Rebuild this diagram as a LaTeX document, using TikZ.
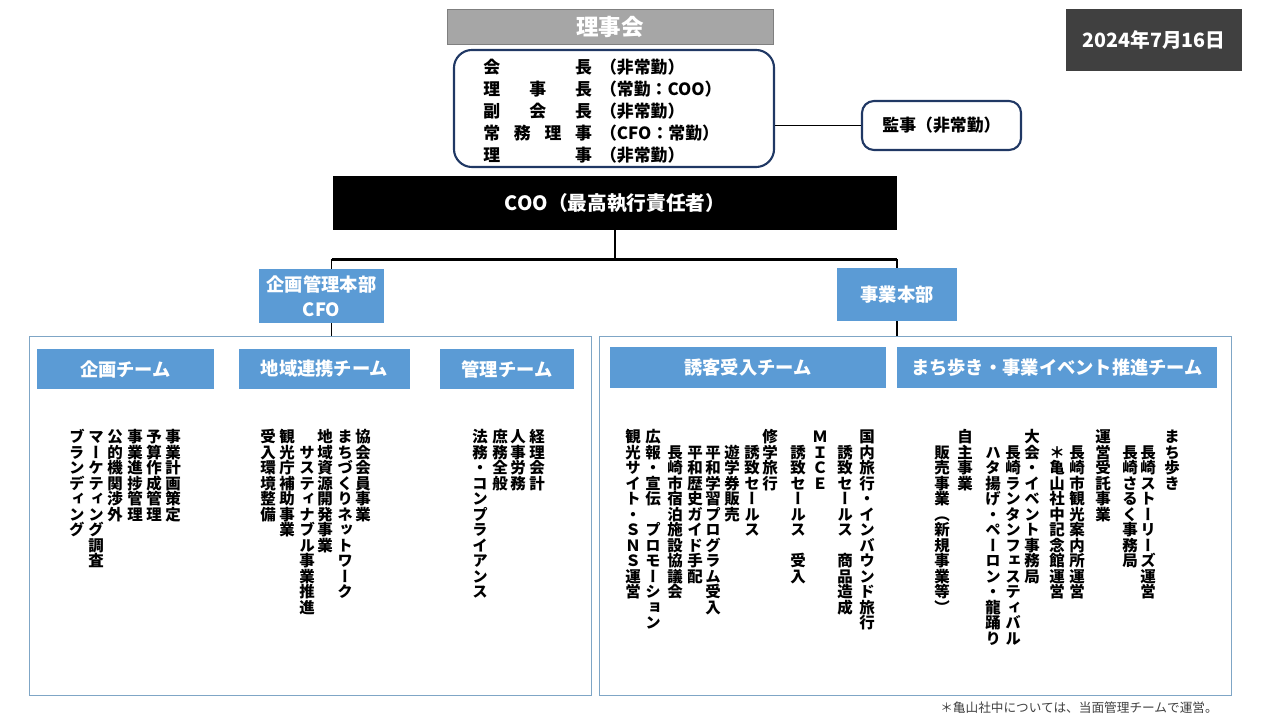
\documentclass[tikz,border=0pt]{standalone}
\usepackage{fontspec}
\setmainfont{Noto Sans CJK JP}
\newfontfamily\tatefont{Noto Sans CJK JP}[RawFeature={vertical}]
\usetikzlibrary{positioning}
\definecolor{cgray}{HTML}{A6A6A6}
\definecolor{cgrayline}{HTML}{7F7F7F}
\definecolor{cnavy}{HTML}{203864}
\definecolor{cdate}{HTML}{404040}
\definecolor{cteam}{HTML}{5B9BD5}
\definecolor{cpanel}{HTML}{7FA6C6}
\newcommand\yakumei[1]{\makebox[2.72cm]{#1}\hspace{0.2cm}}
\tikzset{
  boardbox/.style={fill=cgray, draw=cgrayline, text=white, inner sep=0pt,
    font=\fontsize{16}{18}\selectfont\bfseries},
  roundbox/.style={rounded corners=0.45cm, draw=cnavy, line width=1.5pt, inner sep=0pt,
    font=\fontsize{12}{15.6}\selectfont\bfseries},
  hqbox/.style={fill=cteam, text=white, align=center, inner sep=0pt,
    font=\fontsize{13}{18}\selectfont\bfseries},
  teambox/.style={fill=cteam, text=white, inner sep=0pt, minimum height=1cm,
    font=\fontsize{13}{16}\selectfont\bfseries},
  panel/.style={draw=cpanel, line width=0.6pt},
  orgline/.style={line width=1pt},
  vcol/.style={xshift=0.15cm, rotate=-90, anchor=west, inner sep=0pt,
    font=\tatefont\fontsize{11}{11}\selectfont\bfseries}
}
\begin{document}
\begin{tikzpicture}[x=0.025cm, y=-0.025cm]
  \useasboundingbox (0,0) rectangle (1280,720);

  % board and officers
  \node[boardbox, minimum width=8.15cm, minimum height=0.875cm] (board) at (610,26.5) {理事会};
  \node[roundbox, minimum width=8cm, minimum height=2.925cm] (officers) at (614,108.5) {};
  \node[anchor=west, inner sep=0pt, align=left,
    font=\fontsize{12}{15.6}\selectfont\bfseries] (roles) at (483,111)
    {\yakumei{会\hfill 長}（非常勤）\\
     \yakumei{理\hfill 事\hfill 長}（常勤：COO）\\
     \yakumei{副\hfill 会\hfill 長}（非常勤）\\
     \yakumei{常\hfill 務\hfill 理\hfill 事}（CFO：常勤）\\
     \yakumei{理\hfill 事}（非常勤）};
  \node[roundbox, rounded corners=0.3cm, minimum width=3.975cm, minimum height=1.225cm] (auditor) at (941.5,125.5) {監事（非常勤）};
  \node[fill=cdate, text=white, minimum width=4.4cm, minimum height=1.55cm,
    font=\fontsize{14}{16}\selectfont\bfseries] (date) at (1154,40) {2024年7月16日};

  % executive and headquarters
  \node[fill=black, text=white, minimum width=14.1cm, minimum height=1.35cm,
    font=\fontsize{14}{16}\selectfont\bfseries] (coo) at (615,203) {COO（最高執行責任者）};
  \node[hqbox, minimum width=3.125cm, minimum height=1.35cm] (planhq) at (321.5,296) {企画管理本部\\CFO};
  \node[hqbox, minimum width=3cm, minimum height=1.325cm] (bizhq) at (897,294.5) {事業本部};

  % panels and teams
  \node[panel, minimum width=14.05cm, minimum height=8.975cm] (leftpanel) at (310,515.5) {};
  \node[panel, minimum width=15.8cm, minimum height=8.975cm] (rightpanel) at (915,515.5) {};
  \node[teambox, minimum width=4.425cm] (kikaku) at (125.5,369) {企画チーム};
  \node[teambox, minimum width=4.275cm] (chiiki) at (324.5,369) {地域連携チーム};
  \node[teambox, minimum width=3.35cm] (kanri) at (507,369) {管理チーム};
  \node[teambox, minimum width=6.9cm, minimum height=1.025cm] (yukyaku) at (748,367.5) {誘客受入チーム};
  \node[teambox, minimum width=8cm, minimum height=1.025cm] (machi) at (1057,367.5) {まち歩き・事業イベント推進チーム};

  % connectors
  \path (coo.south) ++(0,29) coordinate (bar);
  \coordinate (planjoin) at ([xshift=0.25cm]planhq.north);
  \draw[orgline] (coo.south) -- (bar);
  \draw[orgline] (planjoin) |- (bar) -| (bizhq.north);
  \draw[orgline, line width=1.8pt] (planjoin |- bar) -- (bizhq.north |- bar);
  \draw[orgline] ([xshift=0.25cm]planhq.south) -- ([xshift=0.25cm]planhq.south |- leftpanel.north);
  \draw[orgline] (bizhq.south) -- (bizhq.south |- rightpanel.north);
  \draw[orgline] (officers.east |- auditor.west) -- (auditor.west);

  % kikaku team
  \node[vcol] (kk1) at (173,429) {事業計画策定};
  \node[vcol] (kk2) at (154,429) {予算作成管理};
  \node[vcol] (kk3) at (135,429) {事業進捗管理};
  \node[vcol] (kk4) at (115,429) {公的機関渉外};
  \node[vcol] (kk5) at (96,429) {マーケティング調査};
  \node[vcol] (kk6) at (77,429) {ブランディング};

  % chiiki team
  \node[vcol] (ck1) at (363,429) {協会会員事業};
  \node[vcol] (ck2) at (345,429) {まちづくりネットワーク};
  \node[vcol] (ck3) at (325,429) {地域資源開発事業};
  \node[vcol] (ck4) at (307,444.5) {サスティナブル事業推進};
  \node[vcol] (ck5) at (287,429) {観光庁補助事業};
  \node[vcol] (ck6) at (268,429) {受入環境整備};

  % kanri team
  \node[vcol] (kr1) at (537,429) {経理会計};
  \node[vcol] (kr2) at (518,429) {人事労務};
  \node[vcol] (kr3) at (500,429) {庶務全般};
  \node[vcol] (kr4) at (480,429) {法務・コンプライアンス};

  % yukyaku team
  \node[vcol] (yk1) at (867,429) {国内旅行・インバウンド旅行};
  \node[vcol] (yk2) at (845,444.5) {誘致セールス　商品造成};
  \node[vcol] (yk3) at (820,429) {ＭＩＣＥ};
  \node[vcol] (yk4) at (798,444.5) {誘致セールス　受入};
  \node[vcol] (yk5) at (770,429) {修学旅行};
  \node[vcol] (yk6) at (752,444.5) {誘致セールス};
  \node[vcol] (yk7) at (732,444.5) {遊学券販売};
  \node[vcol] (yk8) at (713,444.5) {平和学習プログラム受入};
  \node[vcol] (yk9) at (695,444.5) {平和歴史ガイド手配};
  \node[vcol] (yk10) at (675,444.5) {長崎市宿泊施設協議会};
  \node[vcol] (yk11) at (653,429) {広報・宣伝　プロモーション};
  \node[vcol] (yk12) at (633,429) {観光サイト・ＳＮＳ運営};

  % machi team
  \node[vcol] (mc1) at (1172,429) {まち歩き};
  \node[vcol] (mc2) at (1148,444.5) {長崎ストーリーズ運営};
  \node[vcol] (mc3) at (1130,444.5) {長崎さるく事務局};
  \node[vcol] (mc4) at (1103,429) {運営受託事業};
  \node[vcol] (mc5) at (1077,444.5) {長崎市観光案内所運営};
  \node[vcol] (mc6) at (1057,444.5) {＊亀山社中記念館運営};
  \node[vcol] (mc7) at (1032,429) {大会・イベント事務局};
  \node[vcol] (mc8) at (1013,444.5) {長崎ランタンフェスティバル};
  \node[vcol] (mc9) at (993,444.5) {ハタ揚げ・ペーロン・龍踊り};
  \node[vcol] (mc10) at (965,429) {自主事業};
  \node[vcol] (mc11) at (942,444.5) {販売事業（新規事業等）};

  \node[font=\fontsize{9}{11}\selectfont, text=cdate] (note) at (1079,708) {＊亀山社中については、当面管理チームで運営。};
\end{tikzpicture}
\end{document}
